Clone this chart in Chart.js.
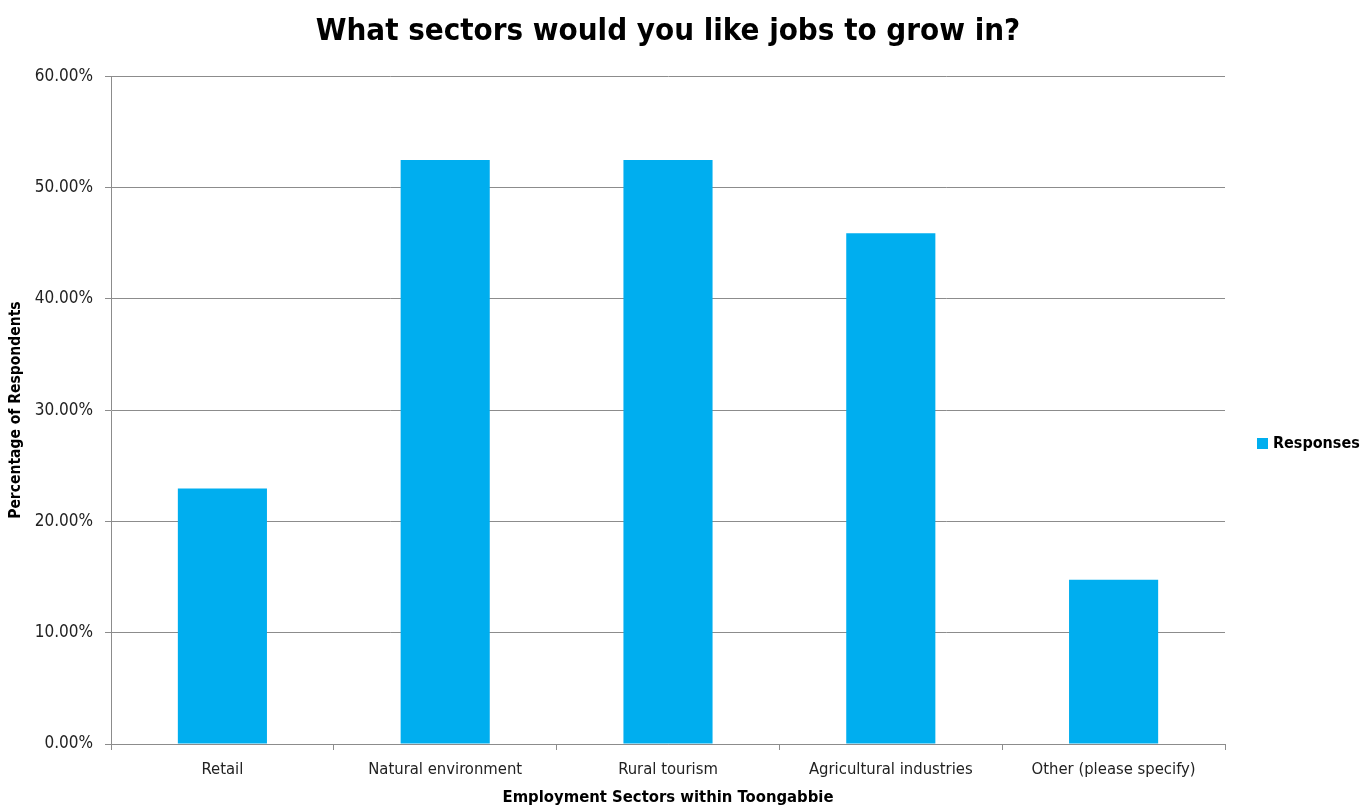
<!DOCTYPE html>
<html>
<head>
<meta charset="utf-8">
<script src="https://cdn.jsdelivr.net/npm/chart.js@4.4.1/dist/chart.umd.min.js"></script>
<style>
  html, body { margin: 0; padding: 0; background: #fff; }
  #wrap { width: 1361px; height: 808px; }
</style>
</head>
<body>
<div id="wrap"><canvas id="grafico" width="1361" height="808"></canvas></div>
<script>
const sectores = ["Retail", "Natural environment", "Rural tourism", "Agricultural industries", "Other (please specify)"];
const respuestas = [22.95, 52.46, 52.46, 45.90, 14.75];
const ticksY = [0, 10, 20, 30, 40, 50, 60];

const FONT = "'Liberation Sans Narrow', 'DejaVu Sans Condensed', 'Liberation Sans', sans-serif";
const AZUL = "#00AEEF";
const GRIS = "#8c8c8c";

// leyenda a la derecha, dibujada a mano
const leyenda = {
  id: "leyenda",
  afterDraw(chart) {
    const ctx = chart.ctx;
    const ds = chart.data.datasets[0];
    ctx.save();
    ctx.fillStyle = ds.backgroundColor;
    ctx.fillRect(1257, 438, 11, 11);
    ctx.fillStyle = "#000";
    ctx.font = "bold 16px " + FONT;
    ctx.textBaseline = "middle";
    ctx.fillText(ds.label, 1273, 444);
    ctx.restore();
  }
};

new Chart(document.getElementById("grafico").getContext("2d"), {
  type: "bar",
  data: {
    labels: sectores,
    datasets: [{
      label: "Responses",
      data: respuestas,
      backgroundColor: AZUL,
      categoryPercentage: 1,
      barPercentage: 0.4
    }]
  },
  options: {
    responsive: false,
    animation: false,
    layout: { padding: { left: 0, right: 136, top: 0, bottom: 0 } },
    plugins: {
      legend: { display: false },
      tooltip: { enabled: false },
      title: {
        display: true,
        text: "What sectors would you like jobs to grow in?",
        color: "#000",
        fullSize: false,
        font: { family: FONT, size: 31, weight: "bold", lineHeight: 1.2 },
        padding: { top: 13, bottom: 26 }
      }
    },
    scales: {
      x: {
        grid: { display: true, drawOnChartArea: false, offset: true, color: GRIS, tickLength: 6 },
        border: { display: true, color: GRIS, width: 1 },
        ticks: { color: "#222", font: { family: FONT, size: 16.5 }, padding: 10, maxRotation: 0 },
        title: {
          display: true,
          text: "Employment Sectors within Toongabbie",
          color: "#000",
          font: { family: FONT, size: 16.5, weight: "bold" },
          padding: { top: 4, bottom: 0 }
        },
        afterFit(scale) { scale.height = 64; }
      },
      y: {
        min: 0,
        max: 60,
        afterBuildTicks(scale) { scale.ticks = ticksY.map(v => ({ value: v })); },
        grid: { color: GRIS, tickLength: 6 },
        border: { display: true, color: GRIS, width: 1 },
        ticks: {
          color: "#222",
          font: { family: FONT, size: 17 },
          padding: 12,
          callback: v => v.toFixed(2) + "%"
        },
        title: {
          display: true,
          text: "Percentage of Respondents",
          color: "#000",
          font: { family: FONT, size: 15.5, weight: "bold" },
          padding: { top: 7, bottom: 6 }
        },
        afterFit(scale) { scale.width = 111; }
      }
    }
  },
  plugins: [leyenda]
});
</script>
</body>
</html>
